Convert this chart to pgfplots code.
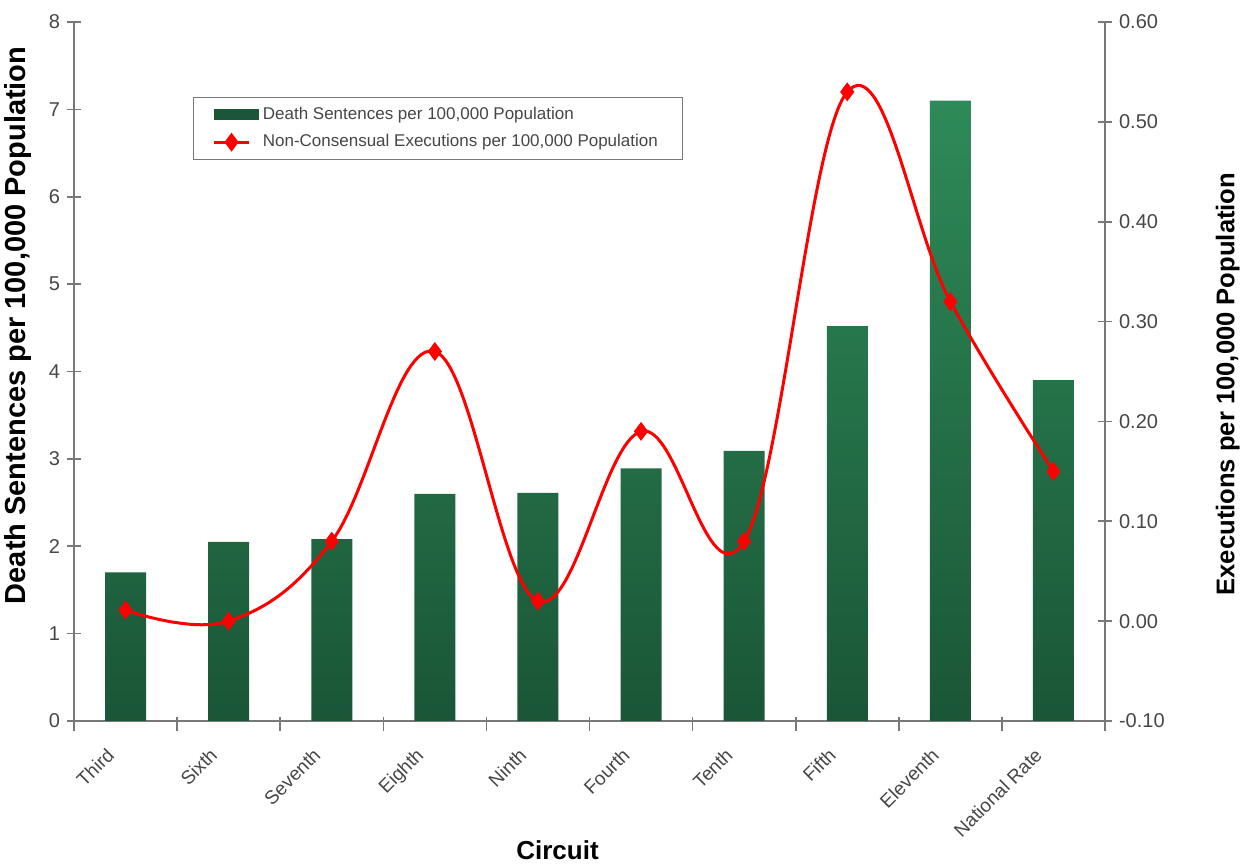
\documentclass[border=0pt]{standalone}
\usepackage{pgfplots}
\pgfplotsset{compat=1.18}
\usepackage{fontspec}
\setmainfont{Liberation Sans}
\definecolor{barTop}{RGB}{46,138,88}
\definecolor{barBot}{RGB}{26,86,55}
\definecolor{axgray}{RGB}{120,120,120}
\definecolor{txtgray}{RGB}{70,70,70}
\begin{document}
\begin{tikzpicture}
\useasboundingbox (-37pt,-72pt) rectangle (587.5pt,360.5pt);
\pgfplotsset{
  common/.style={
    scale only axis, width=515.5pt, height=349.5pt,
    at={(0pt,0pt)}, anchor=south west,
    xmin=-0.5, xmax=9.5,
    /pgf/number format/assume math mode=true,
    tick align=center, major tick length=7pt,
    axis line style={axgray, line width=0.9pt},
    tick style={axgray, line width=0.8pt},
    tick label style={font=\fontsize{10}{12}\selectfont, text=txtgray},
  }
}
\begin{axis}[common,
  ymin=0, ymax=8, ytick={0,1,...,8},
  axis x line*=bottom, axis y line*=left,
  xtick={-0.5,0.5,...,9.5}, xticklabels={},
  xtick style={yshift=-1.5pt},
  extra x ticks={0,1,2,3,4,5,6,7,8,9},
  extra x tick labels={Third,Sixth,Seventh,Eighth,Ninth,Fourth,Tenth,Fifth,Eleventh,National Rate},
  extra x tick style={major tick length=0pt, tick label style={xshift=-10pt, yshift=-8pt, rotate=45, anchor=north east, font=\fontsize{9.5}{11}\selectfont}},
  ylabel={Death Sentences per 100,000 Population},
  ylabel style={at={(axis description cs:-0.0543,0.566)}, anchor=center, font=\bfseries\fontsize{14.5}{16}\selectfont},
  xlabel={Circuit},
  xlabel style={at={(axis description cs:0.469,-0.185)}, anchor=center, font=\bfseries\fontsize{13}{15}\selectfont},
]
\addplot[ybar, bar width=20.5pt, draw=none, top color=barTop, bottom color=barBot] coordinates {
(0,1.70) (1,2.05) (2,2.08) (3,2.60) (4,2.61) (5,2.89) (6,3.09) (7,4.52) (8,7.10) (9,3.90)};
\end{axis}
\begin{axis}[common,
  ymin=-0.1, ymax=0.6, ytick={-0.1,0,0.1,0.2,0.3,0.4,0.5,0.6},
  yticklabel style={/pgf/number format/.cd, fixed, fixed zerofill, precision=2},
  axis x line=none, axis y line*=right,
  ylabel={Executions per 100,000 Population},
  ylabel style={at={(axis description cs:1.119,0.482)}, anchor=center, font=\bfseries\fontsize{12.8}{15}\selectfont},
  legend style={at={(axis description cs:0.115,0.893)}, anchor=north west,
    draw=axgray, font=\fontsize{8.5}{10}\selectfont, text=txtgray,
    inner xsep=10pt, inner ysep=3pt, row sep=2pt},
  legend cell align=left,
]
\addlegendimage{legend image code/.code={\fill[barBot] (0pt,-2.5pt) rectangle (22pt,2.5pt);}}
\addlegendentry{Death Sentences per 100,000 Population}
\addplot[red, line width=1.5pt, smooth, tension=0.65, mark=diamond*, mark size=3.5pt, mark options={fill=red}] coordinates {
(0,0.011) (1,0.00) (2,0.08) (3,0.27) (4,0.02) (5,0.19) (6,0.08) (7,0.53) (8,0.32) (9,0.15)};
\addlegendentry{Non-Consensual Executions per 100,000 Population}
\end{axis}
\end{tikzpicture}
\end{document}
